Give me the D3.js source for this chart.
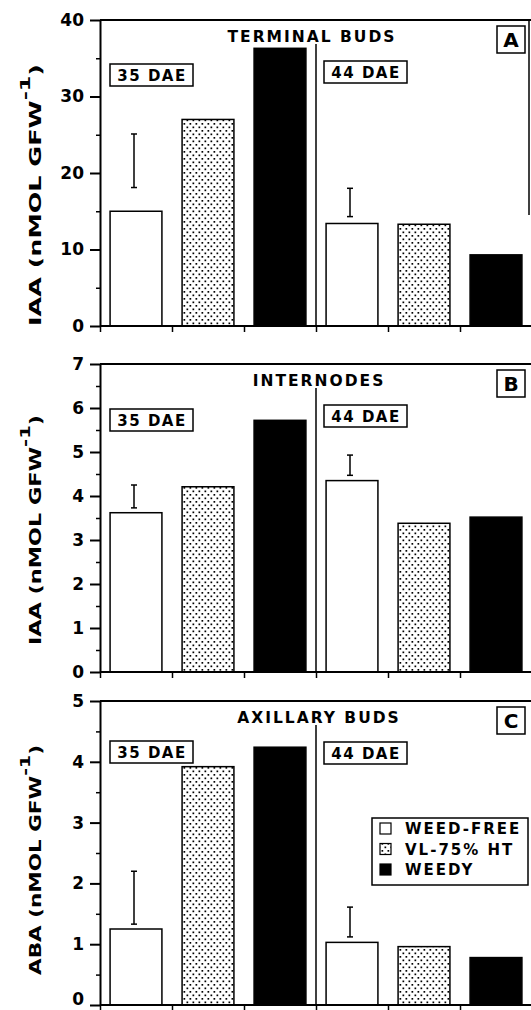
<!DOCTYPE html>
<html>
<head>
<meta charset="utf-8">
<script src="https://cdn.jsdelivr.net/npm/d3@7"></script>
<style>
  body { margin: 0; background: #fff; }
  svg text { font-family: "DejaVu Sans", sans-serif; font-weight: bold; fill: #000; }
</style>
</head>
<body>
<div id="chart"></div>
<script>
const width = 531, height = 1010;

const days = ["35 DAE", "44 DAE"];
const treatments = ["WEED-FREE", "VL-75% HT", "WEEDY"];

// A - terminal buds, IAA
const terminalBuds35 = [15.0, 27.0, 36.3];
const terminalBuds44 = [13.4, 13.3, 9.3];
const terminalBudsBar = [[18.1, 25.1], [14.3, 18.0]];   // lo, hi of the bar over weed-free

// B - internodes, IAA
const internodes35 = [3.62, 4.21, 5.72];
const internodes44 = [4.35, 3.38, 3.52];
const internodesBar = [[3.73, 4.25], [4.47, 4.93]];

// C - axillary buds, ABA
const axillary35 = [1.25, 3.92, 4.24];
const axillary44 = [1.03, 0.96, 0.78];
const axillaryBar = [[1.33, 2.20], [1.12, 1.61]];

const ticksA = [0, 10, 20, 30, 40], minorA = [5, 15, 25, 35];
const ticksB = [0, 1, 2, 3, 4, 5, 6, 7], minorB = [0.5, 1.5, 2.5, 3.5, 4.5, 5.5, 6.5];
const ticksC = [0, 1, 2, 3, 4, 5], minorC = [0.5, 1.5, 2.5, 3.5, 4.5];

const panels = [
  { letter: "A", title: "TERMINAL BUDS", yName: "IAA (nMOL GFW", vals: [terminalBuds35, terminalBuds44], bar: terminalBudsBar,
    ticks: ticksA, minor: minorA, top: 20, bottom: 326, titleDx: -4, boxTop: [44, 41], yTitleC: 195, yTitleLen: 262, zeroUp: 0 },
  { letter: "B", title: "INTERNODES", yName: "IAA (nMOL GFW", vals: [internodes35, internodes44], bar: internodesBar,
    ticks: ticksB, minor: minorB, top: 364, bottom: 672, titleDx: 3, boxTop: [45, 41], yTitleC: 530, yTitleLen: 230, zeroUp: 0 },
  { letter: "C", title: "AXILLARY BUDS", yName: "ABA (nMOL GFW", vals: [axillary35, axillary44], bar: axillaryBar,
    ticks: ticksC, minor: minorC, top: 701, bottom: 1005, titleDx: 3, boxTop: [40, 41], yTitleC: 860, yTitleLen: 230, zeroUp: 6 }
];

const svg = d3.select("#chart").append("svg")
  .attr("width", width).attr("height", height);

// dotted fill
const pat = svg.append("defs").append("pattern")
  .attr("id", "dots").attr("patternUnits", "userSpaceOnUse")
  .attr("width", 6).attr("height", 7);
pat.append("rect").attr("width", 6).attr("height", 7).attr("fill", "#fff");
pat.append("rect").attr("x", 0.5).attr("y", 0.5).attr("width", 1.7).attr("height", 1.7).attr("fill", "#000");
pat.append("rect").attr("x", 3.5).attr("y", 4).attr("width", 1.7).attr("height", 1.7).attr("fill", "#000");

const fills = ["#fff", "url(#dots)", "#000"];

const x0 = d3.scaleBand().domain(days).range([100, 532]);
const x1 = d3.scaleBand().domain(treatments).range([0, x0.bandwidth()])
  .paddingInner(0.28).paddingOuter(0.14);
const xEdge = d3.scaleLinear().domain([0, 6]).range([100, 532]);

panels.forEach(p => {
  const y = d3.scaleLinear().domain([0, d3.max(p.ticks)]).range([p.bottom, p.top]);
  const g = svg.append("g");

  // top frame
  g.append("line").attr("x1", 100).attr("x2", width).attr("y1", y.range()[1]).attr("y2", y.range()[1])
    .attr("stroke", "#000").attr("stroke-width", 2);
  if (p.letter === "A") {
    g.append("line").attr("x1", 529).attr("x2", 529).attr("y1", y(40)).attr("y2", y(14.5))
      .attr("stroke", "#000").attr("stroke-width", 1.5);
  }

  // bars
  p.vals.forEach((vals, i) => {
    g.selectAll(null).data(vals).join("rect")
      .attr("x", (d, j) => x0(days[i]) + x1(treatments[j]))
      .attr("width", x1.bandwidth())
      .attr("y", d => y(d))
      .attr("height", d => y(0) - y(d))
      .attr("fill", (d, j) => fills[j])
      .attr("stroke", "#000").attr("stroke-width", 1.5);
  });

  // bars over weed-free
  p.bar.forEach((b, i) => {
    const cx = x0(days[i]) + x1(treatments[0]) + x1.bandwidth() / 2 - 2;
    g.append("line").attr("x1", cx).attr("x2", cx).attr("y1", y(b[0])).attr("y2", y(b[1]))
      .attr("stroke", "#000").attr("stroke-width", 1.5);
    b.forEach(v => g.append("line").attr("x1", cx - 3).attr("x2", cx + 3).attr("y1", y(v)).attr("y2", y(v))
      .attr("stroke", "#000").attr("stroke-width", 1.5));
  });

  // divider between days
  const xd = x0(days[1]);
  g.append("line").attr("x1", xd).attr("x2", xd).attr("y1", p.top + 24).attr("y2", y(0))
    .attr("stroke", "#000").attr("stroke-width", 1.5);

  // axes
  const ax = g.append("g").attr("transform", `translate(100,0)`)
    .call(d3.axisLeft(y).tickValues(p.ticks).tickFormat(d3.format("d"))
      .tickSize(10).tickPadding(6).tickSizeOuter(0));
  ax.select(".domain").attr("stroke-width", 2);
  ax.selectAll(".tick line").attr("stroke-width", 2);
  ax.selectAll(".tick text").attr("font-size", 17).attr("font-family", "DejaVu Sans").attr("font-weight", "bold");
  // keep the bottom panel's 0 inside the page
  ax.selectAll(".tick text").filter(d => d === 0).attr("y", -p.zeroUp);

  g.append("g").attr("transform", `translate(100,0)`)
    .call(d3.axisLeft(y).tickValues(p.minor).tickSize(4).tickFormat("").tickSizeOuter(0))
    .call(a => a.select(".domain").remove())
    .selectAll(".tick line").attr("stroke-width", 1.5);

  const bx = g.append("g").attr("transform", `translate(0,${y(0)})`)
    .call(d3.axisBottom(xEdge).tickValues(d3.range(7)).tickSize(6).tickFormat("").tickSizeOuter(0));
  bx.select(".domain").attr("stroke-width", 2).attr("d", `M100,0H${width}`);
  bx.selectAll(".tick line").attr("stroke-width", 1.5);

  // panel title
  g.append("text").attr("x", xd + p.titleDx).attr("y", p.top + 21.5)
    .attr("text-anchor", "middle").attr("font-size", 15.5).attr("letter-spacing", 2)
    .text(p.title);

  // day boxes
  days.forEach((d, i) => {
    const bxl = i === 0 ? 110 : xd + 8;
    const bt = p.top + p.boxTop[i];
    g.append("rect").attr("x", bxl).attr("y", bt).attr("width", 83).attr("height", 22)
      .attr("fill", "#fff").attr("stroke", "#000").attr("stroke-width", 1.5);
    g.append("text").attr("x", bxl + 42).attr("y", bt + 17)
      .attr("text-anchor", "middle").attr("font-size", 15).attr("letter-spacing", 1.5)
      .text(d);
  });

  // letter box
  g.append("rect").attr("x", 497).attr("y", p.top + 6).attr("width", 28).attr("height", 27)
    .attr("fill", "#fff").attr("stroke", "#000").attr("stroke-width", 1.5);
  g.append("text").attr("x", 511).attr("y", p.top + 27).attr("text-anchor", "middle")
    .attr("font-size", 20).attr("font-weight", p.letter === "A" ? "bold" : "normal")
    .text(p.letter);

  // y title
  const yt = g.append("text").attr("transform", `translate(41,${p.yTitleC}) rotate(-90)`)
    .attr("text-anchor", "middle").attr("font-size", 16)
    .attr("textLength", p.yTitleLen).attr("lengthAdjust", "spacingAndGlyphs");
  yt.append("tspan").text(p.yName);
  yt.append("tspan").attr("dy", -11).attr("font-size", 14).text("-1");
  yt.append("tspan").attr("dy", 11).text(")");
});

// legend
const lg = svg.append("g").attr("transform", "translate(372,818)");
lg.append("rect").attr("width", 156).attr("height", 67)
  .attr("fill", "#fff").attr("stroke", "#000").attr("stroke-width", 1.5);
treatments.forEach((t, i) => {
  lg.append("rect").attr("x", 8).attr("y", 5 + i * 20.5).attr("width", 11).attr("height", 11)
    .attr("fill", fills[i]).attr("stroke", "#000").attr("stroke-width", 1.2);
  lg.append("text").attr("x", 33).attr("y", 16 + i * 20.5)
    .attr("font-size", 15).attr("letter-spacing", 2).text(t);
});
</script>
</body>
</html>
